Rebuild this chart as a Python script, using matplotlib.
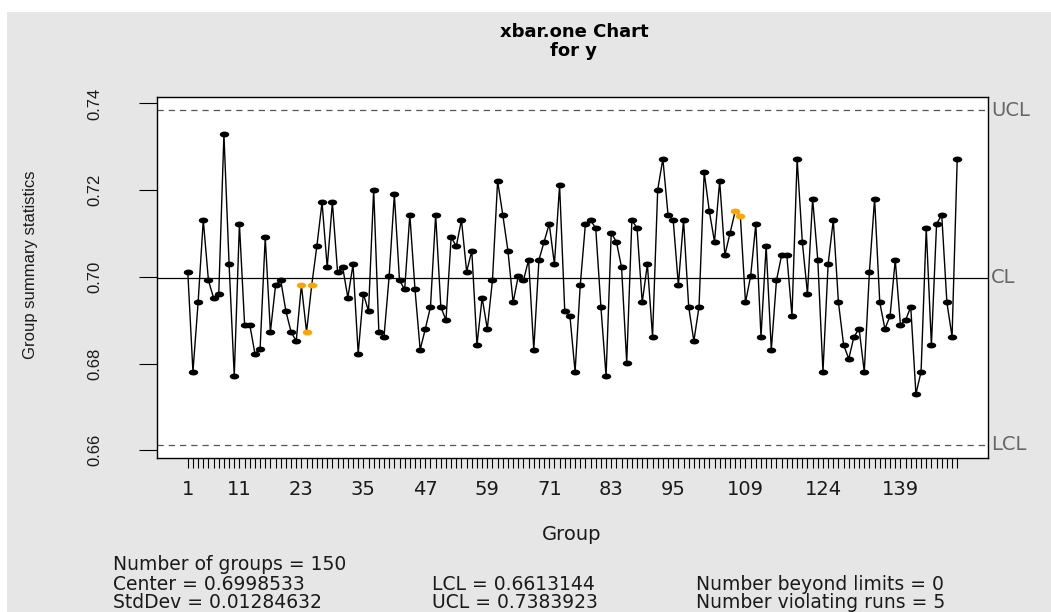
import numpy as np
import matplotlib
matplotlib.use("Agg")
import matplotlib.pyplot as plt
from matplotlib.path import Path
from matplotlib.patches import Rectangle

# ---- data ----
values = [
    0.7012, 0.6781, 0.6941, 0.7131, 0.6992, 0.6951, 0.6961, 0.7329, 0.7029, 0.6771,
    0.7122, 0.6890, 0.6890, 0.6823, 0.6833, 0.7091, 0.6873, 0.6981, 0.6992, 0.6921,
    0.6873, 0.6852, 0.6981, 0.6873, 0.6981, 0.7071, 0.7172, 0.7022, 0.7172, 0.7012,
    0.7022, 0.6952, 0.7029, 0.6823, 0.6961, 0.6921, 0.7201, 0.6873, 0.6862, 0.7002,
    0.7190, 0.6992, 0.6971, 0.7143, 0.6971, 0.6832, 0.6880, 0.6931, 0.7143, 0.6931,
    0.6900, 0.7091, 0.7071, 0.7131, 0.7012, 0.7060, 0.6843, 0.6952, 0.6880, 0.6992,
    0.7221, 0.7143, 0.7060, 0.6941, 0.7002, 0.6992, 0.7039, 0.6832, 0.7039, 0.7081,
    0.7122, 0.7029, 0.7211, 0.6921, 0.6910, 0.6781, 0.6981, 0.7122, 0.7131, 0.7112,
    0.6931, 0.6771, 0.7101, 0.7081, 0.7022, 0.6802, 0.7131, 0.7112, 0.6941, 0.7029,
    0.6862, 0.7201, 0.7272, 0.7143, 0.7131, 0.6981, 0.7131, 0.6931, 0.6852, 0.6931,
    0.7241, 0.7151, 0.7081, 0.7221, 0.7050, 0.7101, 0.7151, 0.7141, 0.6941, 0.7002,
    0.7122, 0.6862, 0.7071, 0.6832, 0.6992, 0.7050, 0.7050, 0.6910, 0.7272, 0.7081,
    0.6961, 0.7180, 0.7039, 0.6781, 0.7029, 0.7131, 0.6941, 0.6843, 0.6811, 0.6862,
    0.6880, 0.6781, 0.7012, 0.7180, 0.6941, 0.6880, 0.6910, 0.7039, 0.6890, 0.6900,
    0.6931, 0.6730, 0.6781, 0.7112, 0.6843, 0.7122, 0.7143, 0.6941, 0.6862, 0.7272,
]
groups = list(range(1, len(values) + 1))
violating_groups = [23, 24, 25, 107, 108]
tick_label_groups = [1, 11, 23, 35, 47, 59, 71, 83, 95, 109, 124, 139]

center = 0.6998533
std_dev = 0.01284632
lcl = 0.6613144
ucl = 0.7383923
n_beyond = 0
n_violating = 5

# ---- figure ----
W, H = 1051, 612
fig = plt.figure(figsize=(W / 100, H / 100), dpi=100)
fig.patch.set_facecolor("white")
fig.add_artist(Rectangle((7 / W, 0), 1, 1 - 12 / H, transform=fig.transFigure,
                         facecolor="#e6e6e6", edgecolor="none", zorder=-10))

def fx(px):
    return px / W

def fy(py):
    return 1 - py / H

left, right, top, bottom = 157, 988, 97, 458
ax = fig.add_axes([fx(left), fy(bottom), (right - left) / W, (bottom - top) / H])
ax.set_facecolor("white")

x = np.array(groups)
y = np.array(values)
viol = np.isin(x, violating_groups)

t = np.linspace(0, 2 * np.pi, 41)
verts = np.column_stack([1.6 * np.cos(t), np.sin(t)])
codes = [Path.MOVETO] + [Path.LINETO] * (len(verts) - 2) + [Path.CLOSEPOLY]
ell = Path(verts, codes)

ax.plot(x, y, color="black", lw=1.0, zorder=2)
ax.plot(x[~viol], y[~viol], ls="none", marker=ell, ms=6.8, color="black",
        mec="none", zorder=3)
ax.plot(x[viol], y[viol], ls="none", marker=ell, ms=6.8, color="#FFA500",
        mec="none", zorder=3)

ax.axhline(center, color="black", lw=0.9, zorder=1)
for lim in (ucl, lcl):
    ax.axhline(lim, color="#555555", lw=0.9, ls=(0, (5, 4)), zorder=1)

rng = ucl - lcl
ax.set_ylim(lcl - 0.04 * rng, ucl + 0.04 * rng)
xr = x.max() - x.min()
ax.set_xlim(x.min() - 0.04 * xr, x.max() + 0.04 * xr)

for s in ax.spines.values():
    s.set_linewidth(1.0)
    s.set_color("black")

ax.set_xticks(x)
ax.set_xticklabels([str(g) if g in tick_label_groups else "" for g in groups],
                   fontsize=14, fontfamily="DejaVu Sans", color="#1a1a1a")
ax.tick_params(axis="x", length=7, width=0.8, pad=9)

yt = [0.66, 0.68, 0.70, 0.72, 0.74]
ax.set_yticks(yt)
ax.set_yticklabels([f"{v:.2f}" for v in yt], rotation=90, va="center",
                   fontsize=12, fontfamily="Liberation Sans", color="#1a1a1a")
ax.tick_params(axis="y", length=13, width=0.8, pad=26)

# right labels
for lab, val in (("UCL", ucl), ("CL", center), ("LCL", lcl)):
    ax.text(1.004, val, lab, transform=ax.get_yaxis_transform(), va="center",
            ha="left", fontsize=14, color="#666666", fontfamily="DejaVu Sans",
            clip_on=False)

# titles
fig.text(fx(574), fy(32), "xbar.one Chart", ha="center", va="center",
         fontsize=13, fontweight="bold", fontfamily="DejaVu Sans")
fig.text(fx(574), fy(51), "for y", ha="center", va="center",
         fontsize=13, fontweight="bold", fontfamily="DejaVu Sans")

fig.text(fx(572), fy(535), "Group", ha="center", va="center", fontsize=14,
         fontfamily="DejaVu Sans", color="#1a1a1a")
fig.text(fx(31), fy(265), "Group summary statistics", ha="center", va="center",
         rotation=90, fontsize=12, fontfamily="Liberation Sans", color="#1a1a1a")

# stats block
st = dict(ha="left", va="center", fontsize=13.5, fontfamily="DejaVu Sans",
          color="#1a1a1a")
fig.text(fx(113), fy(564), f"Number of groups = {len(values)}", **st)
fig.text(fx(113), fy(584), f"Center = {center}", **st)
fig.text(fx(113), fy(602), f"StdDev = {std_dev}", **st)
fig.text(fx(432), fy(584), f"LCL = {lcl}", **st)
fig.text(fx(432), fy(602), f"UCL = {ucl}", **st)
fig.text(fx(696), fy(584), f"Number beyond limits = {n_beyond}", **st)
fig.text(fx(696), fy(602), f"Number violating runs = {n_violating}", **st)

fig.savefig("out.png", dpi=100, facecolor=fig.get_facecolor())
